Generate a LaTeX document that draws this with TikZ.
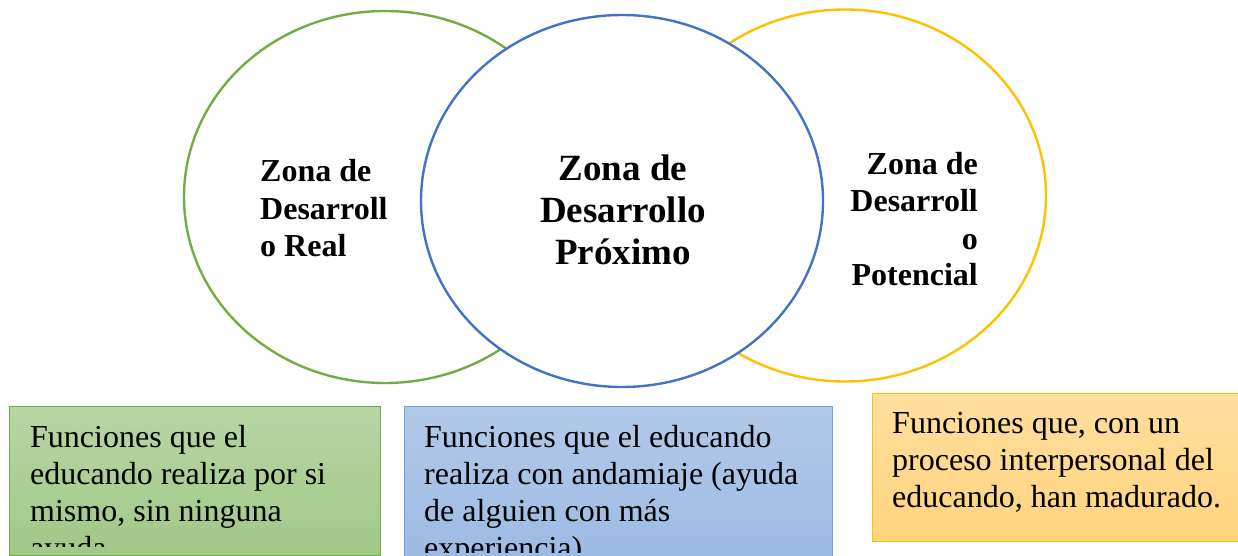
\documentclass[tikz,border=0pt]{standalone}
\usepackage{fontspec}
\setmainfont{Liberation Serif}
\usetikzlibrary{shapes.geometric}
\definecolor{cgreen}{HTML}{70AD47}
\definecolor{cblue}{HTML}{4472C4}
\definecolor{cyellow}{HTML}{FFC000}
\definecolor{gtop}{HTML}{B7D6A5}
\definecolor{gbot}{HTML}{A0C886}
\definecolor{btop}{HTML}{B2CAE9}
\definecolor{bbot}{HTML}{9BBAE4}
\definecolor{bline}{HTML}{6FA0DC}
\definecolor{otop}{HTML}{FFDE9E}
\definecolor{obot}{HTML}{FFD47E}
\tikzset{
  zone/.style={ellipse, line width=2.4pt, inner sep=0pt},
  ztext/.style={inner sep=0pt, font=\bfseries},
  btext/.style={inner sep=0pt, anchor=base west},
}
\begin{document}
\begin{tikzpicture}[x=1pt,y=-1pt]
\useasboundingbox (0,0) rectangle (1238,556);
% ellipses
\node[zone, draw=cgreen, minimum width=402pt, minimum height=372pt] (zr) at (385,197) {};
\node[zone, draw=cyellow, minimum width=402pt, minimum height=372pt] (zp) at (845,195.5) {};
\node[zone, draw=cblue, fill=white, minimum width=402pt, minimum height=372pt] (zx) at (622,201) {};
% ellipse texts
\node[ztext, anchor=base west] (tr) at (260,182)
  {\parbox[t]{200pt}{\fontsize{32}{37}\selectfont\bfseries\raggedright Zona de\\Desarroll\\o Real}};
\node[ztext, anchor=base] (tx) at (623,180)
  {\parbox[t]{300pt}{\fontsize{37}{42}\selectfont\bfseries\centering Zona de\\Desarrollo\\Próximo}};
\node[ztext, anchor=base east] (tp) at (978,175)
  {\parbox[t]{200pt}{\fontsize{32}{37}\selectfont\bfseries\raggedleft Zona de\\Desarroll\\o\\Potencial}};
% boxes
\shade[top color=gtop, bottom color=gbot] (9,406) rectangle (380,555);
\draw[cgreen, line width=1pt] (9,406) rectangle (380,555);
\coordinate (gb) at (9,406);
\begin{scope}
\clip (9,406) rectangle (380,546);
\node[btext] (tg) at (30,447)
  {\parbox[t]{350pt}{\fontsize{32}{37}\selectfont\raggedright Funciones que el\\educando realiza por si\\mismo, sin ninguna\\ayuda}};
\end{scope}
\shade[top color=btop, bottom color=bbot] (404,406) rectangle (832,560);
\draw[bline, line width=1pt] (404,560) -- (404,406) -- (832,406) -- (832,560);
\begin{scope}
\clip (404,406) rectangle (832,552);
\node[btext] (tb) at (424,447)
  {\parbox[t]{400pt}{\fontsize{32}{37}\selectfont\raggedright Funciones que el educando\\realiza con andamiaje (ayuda\\de alguien con más\\experiencia)}};
\end{scope}
\shade[top color=otop, bottom color=obot] (872,393) rectangle (1240,541);
\draw[cyellow, line width=1pt] (1240,393) -- (872,393) -- (872,541) -- (1240,541);
\node[btext] (to) at (892,433)
  {\parbox[t]{340pt}{\fontsize{32}{37}\selectfont\raggedright Funciones que, con un\\proceso interpersonal del\\educando, han madurado.}};
\end{tikzpicture}
\end{document}
